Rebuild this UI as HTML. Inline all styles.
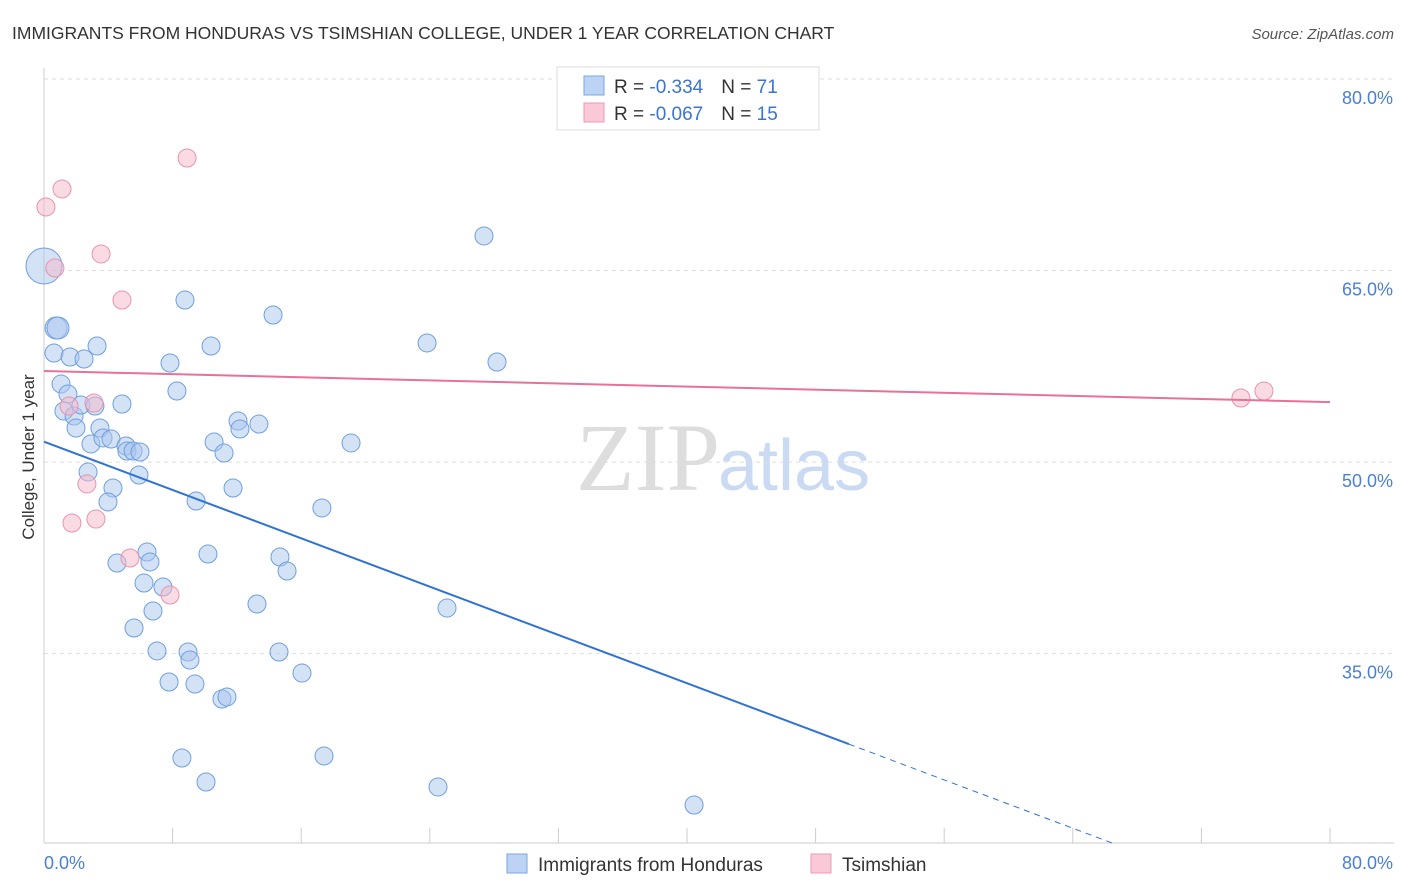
<!DOCTYPE html>
<html><head><meta charset="utf-8"><style>
body{margin:0;background:#fff;font-family:"Liberation Sans",sans-serif;}
#wrap{position:relative;width:1406px;height:892px;overflow:hidden;}
</style></head><body>
<div id="wrap">
<svg id="svg" width="1406" height="892" xmlns="http://www.w3.org/2000/svg">
<text x="12" y="39" font-size="17.5" fill="#333">IMMIGRANTS FROM HONDURAS VS TSIMSHIAN COLLEGE, UNDER 1 YEAR CORRELATION CHART</text>
<text x="1394" y="39" font-size="15" fill="#555" font-style="italic" text-anchor="end">Source: ZipAtlas.com</text>
<text x="720" y="490" font-size="96" font-family="Liberation Serif" fill="#ddd" text-anchor="end">ZIP</text>
<text x="718" y="490" font-size="72" fill="#c9daf2">atlas</text>
<g id="grid"></g><g id="marks"></g>
<text transform="translate(34,457) rotate(-90)" font-size="17" fill="#333" text-anchor="middle">College, Under 1 year</text>
<text x="44" y="869" font-size="18" fill="#4a7fd4">0.0%</text>
<text x="1393" y="869" font-size="18" fill="#4a7fd4" text-anchor="end">80.0%</text>
<g>
<rect x="557" y="67" width="262" height="63" fill="#fff" stroke="#ddd"/>
<rect x="584" y="76" width="20" height="19" fill="#bcd3f5" stroke="#7aa7e0"/>
<rect x="584" y="103" width="20" height="19" fill="#f9c9d7" stroke="#ec9ab4"/>
<text x="614" y="93" font-size="19" fill="#333">R = <tspan fill="#3a74d0">-0.334</tspan><tspan dx="18">N = </tspan><tspan fill="#3a74d0">71</tspan></text>
<text x="614" y="120" font-size="19" fill="#333">R = <tspan fill="#3a74d0">-0.067</tspan><tspan dx="18">N = </tspan><tspan fill="#3a74d0">15</tspan></text>
</g>
<g>
<rect x="507" y="854" width="20" height="19" fill="#bcd3f5" stroke="#7aa7e0"/>
<text x="538" y="871" font-size="19" fill="#333">Immigrants from Honduras</text>
<rect x="811" y="854" width="20" height="19" fill="#f9c9d7" stroke="#ec9ab4"/>
<text x="842" y="871" font-size="19" fill="#333">Tsimshian</text>
</g>
</svg></div>
<script>
const yTicks=[80,65,50,35];
const yTickLabels=["80.0%","65.0%","50.0%","35.0%"];
const xTicks=[0,8,16,24,32,40,48,56,64,72,80];
const bluePx=[[44,266],[56,328],[58,328],[54,353],[70,357],[84,359],[97,346],[61,384],[68,394],[64,411],[74,416],[76,428],[81,405],[95,406],[122,404],[100,428],[91,444],[103,438],[111,439],[126,446],[127,451],[133,451],[140,452],[88,472],[113,488],[108,502],[139,475],[170,363],[177,391],[185,300],[211,346],[273,315],[214,442],[224,453],[238,421],[240,429],[259,424],[233,488],[196,501],[322,508],[351,443],[147,552],[150,562],[117,563],[208,554],[280,557],[287,571],[144,583],[163,587],[153,611],[134,628],[257,604],[447,608],[157,651],[188,652],[190,660],[169,682],[195,684],[222,699],[227,697],[279,652],[302,673],[182,758],[206,782],[324,756],[438,787],[694,805],[484,236],[427,343],[497,362]];
const pinkPx=[[46,207],[62,189],[187,158],[101,254],[55,268],[122,300],[69,406],[94,403],[87,484],[72,523],[96,519],[130,558],[170,595],[1241,398],[1264,391]];
// values (x%, y%) derived from the reading
const blueX=bluePx.map(p=>+((p[0]-44)/1286*80).toFixed(2));
const blueY=bluePx.map(p=>+(80-(p[1]-79)/12.77).toFixed(2));
const pinkX=pinkPx.map(p=>+((p[0]-44)/1286*80).toFixed(2));
const pinkY=pinkPx.map(p=>+(80-(p[1]-79)/12.77).toFixed(2));
const blueTrend=[51.6,-0.473]; const pinkTrend=[57.13,-0.0304];
const X=v=>44+v/80*1286, Y=v=>79+(80-v)*12.77;
const NS="http://www.w3.org/2000/svg";
function mk(t,a,p){const e=document.createElementNS(NS,t);for(const k in a)e.setAttribute(k,a[k]);p.appendChild(e);return e;}
const g=document.getElementById('grid'),m=document.getElementById('marks');
yTicks.forEach((v,i)=>{const l=mk('line',{x1:44,x2:1394,y1:Y(v),y2:Y(v),stroke:'#ddd','stroke-dasharray':'4,4'},g);

const t=mk('text',{x:1393,y:Y(v)+25,'font-size':18,fill:'#4a7fd4','text-anchor':'end'},g);t.textContent=yTickLabels[i];
});
mk('line',{x1:44,x2:44,y1:68,y2:843,stroke:'#ccc'},g);
mk('line',{x1:44,x2:1394,y1:843,y2:843,stroke:'#ccc'},g);
xTicks.forEach(v=>{const l=mk('line',{x1:X(v),x2:X(v),y1:828,y2:843,stroke:'#ccc'},g);
});
function dots(xs,ys,fill,stroke,name){xs.forEach((x,i)=>{const r=(i==0&&name=='blue-point')?18:(i<3&&name=='blue-point'?11:9);
const c=mk('circle',{cx:X(x),cy:Y(ys[i]),r:r,fill:fill,'fill-opacity':0.5,stroke:stroke,'stroke-width':1},m);
});}
dots(blueX,blueY,'#a9c6ee','#6f9fe0','blue-point');
dots(pinkX,pinkY,'#f5b8c9','#e893ae','pink-point');
const bx=50.07,bEnd=66.6;
let l=mk('line',{x1:X(0),y1:Y(blueTrend[0]),x2:X(bx),y2:Y(blueTrend[0]+blueTrend[1]*bx),stroke:'#2f72d6','stroke-width':2},m);

l=mk('line',{x1:X(bx),y1:Y(blueTrend[0]+blueTrend[1]*bx),x2:X(bEnd),y2:Y(blueTrend[0]+blueTrend[1]*bEnd),stroke:'#2f72d6','stroke-width':1,'stroke-dasharray':'6,5'},m);

l=mk('line',{x1:X(0),y1:Y(pinkTrend[0]),x2:X(80),y2:Y(pinkTrend[0]+pinkTrend[1]*80),stroke:'#e8709a','stroke-width':2},m);

</script>
</body></html>
